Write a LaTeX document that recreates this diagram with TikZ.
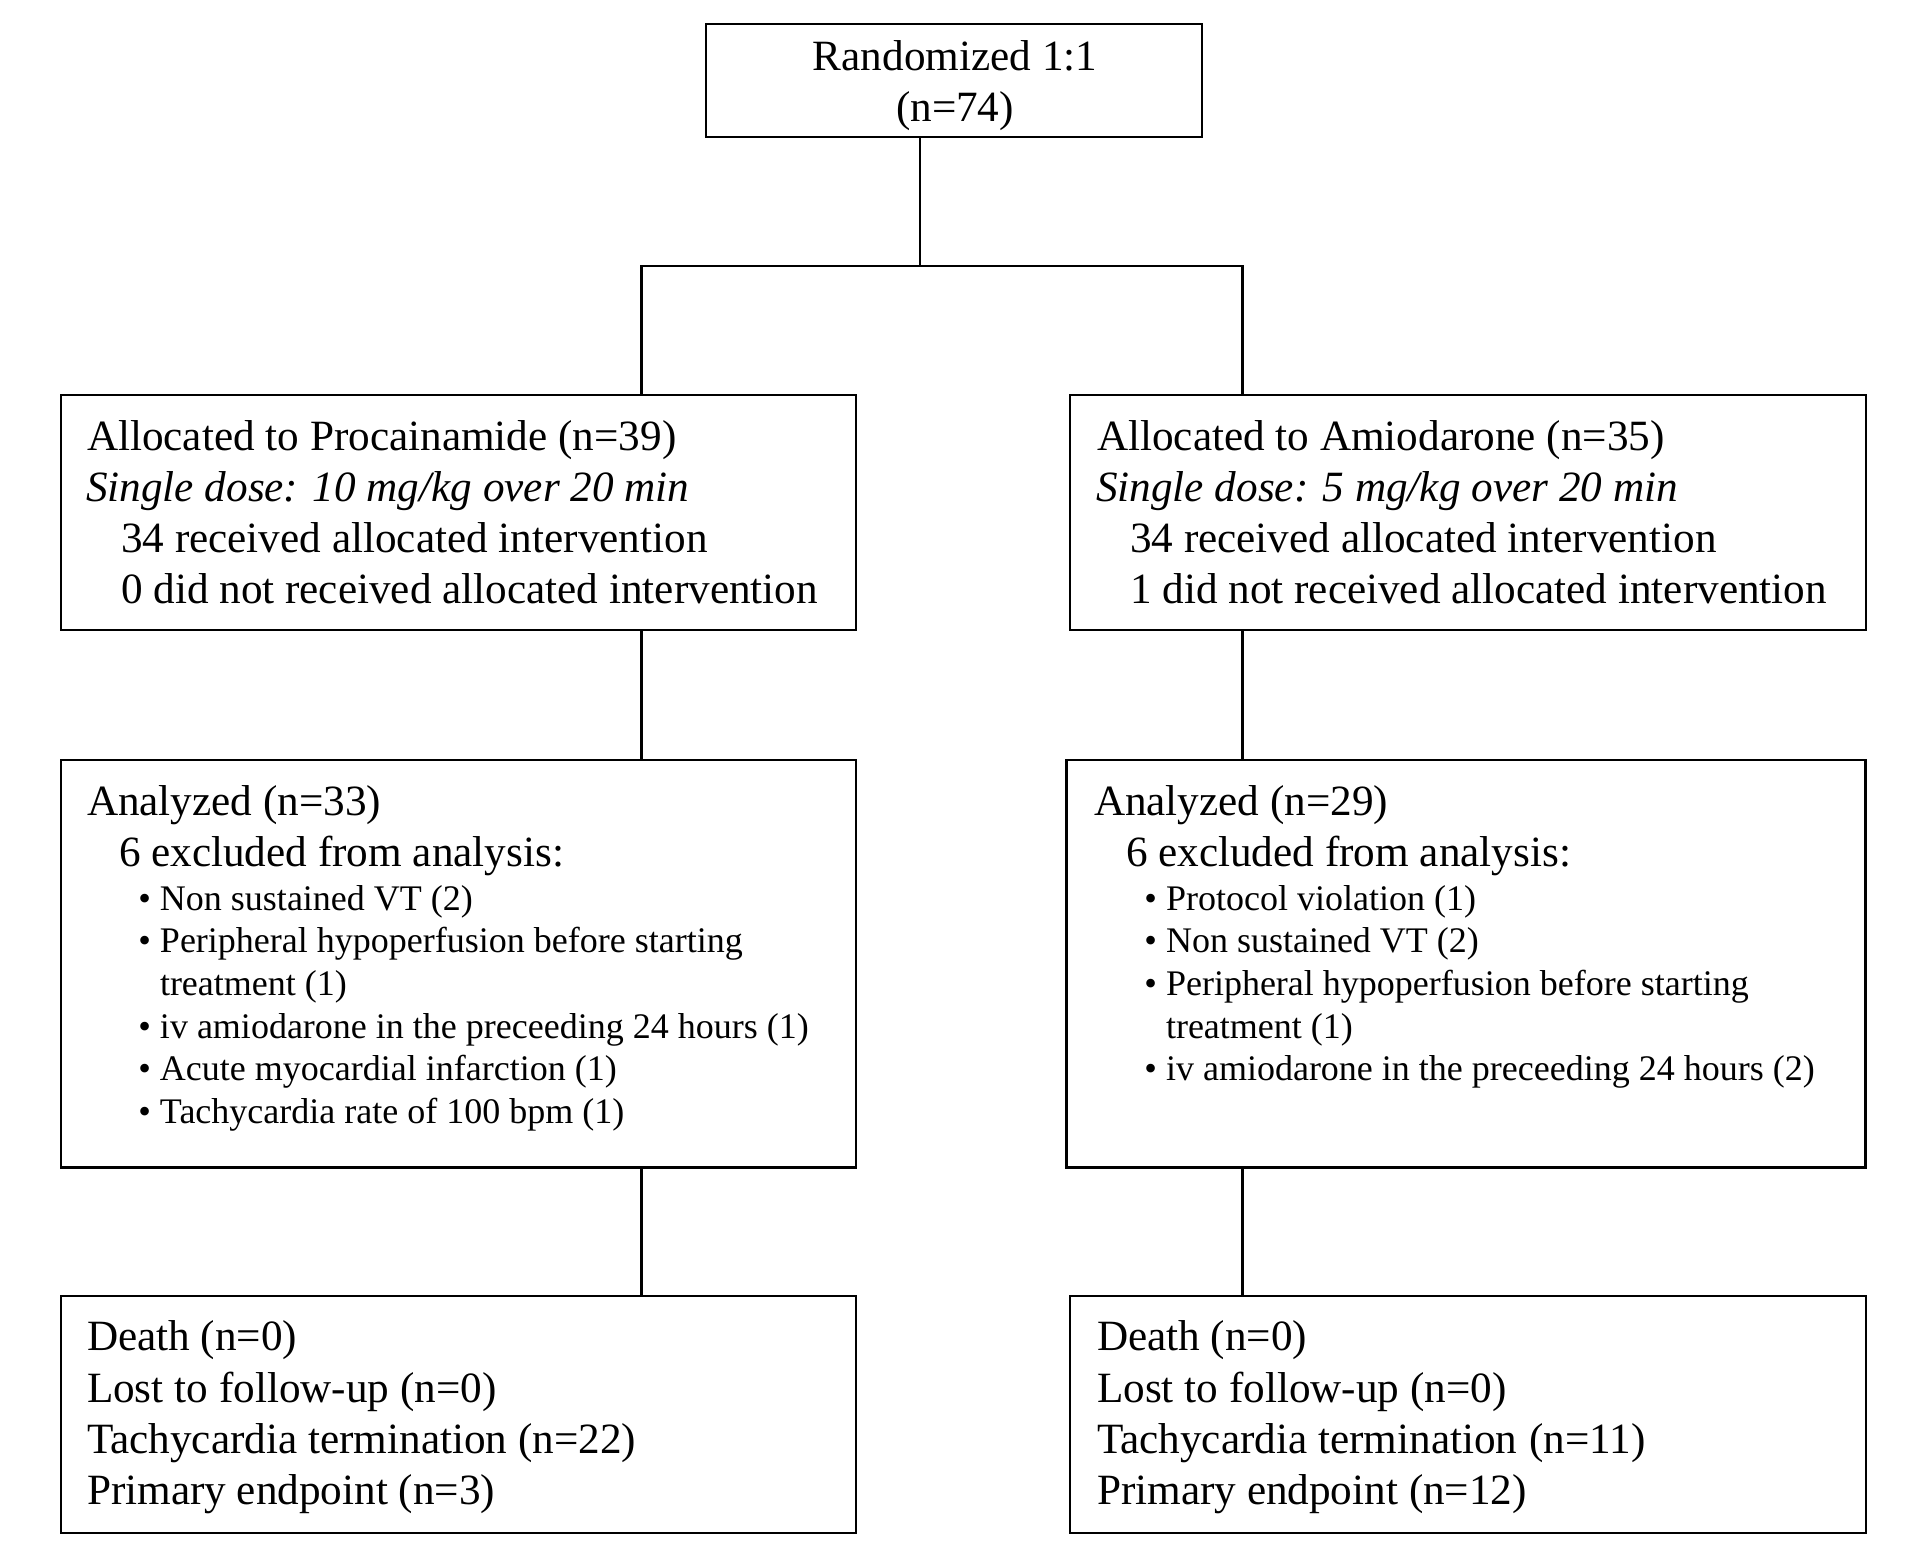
\documentclass[tikz,border=0pt]{standalone}
\usepackage{fontspec}
\setmainfont{Liberation Serif}
\begin{document}
\begin{tikzpicture}[x=1pt,y=-1pt,
  box/.style={draw=black, line width=2.3pt, inner sep=0pt, outer sep=0pt, anchor=north west},
  link/.style={draw=black, line width=2.3pt},
  txt/.style={anchor=base west, inner sep=0pt, outer sep=0pt, font=\fontsize{43.2}{51}\selectfont},
  ctxt/.style={anchor=base, inner sep=0pt, outer sep=0pt, font=\fontsize{43.2}{51}\selectfont},
  sm/.style={anchor=base west, inner sep=0pt, outer sep=0pt, font=\fontsize{36}{42.7}\selectfont}]
\newcommand{\bul}{\llap{\textbullet\hspace{9pt}}}
\fill[white] (0,0) rectangle (1918,1558);
\useasboundingbox (0,0) rectangle (1918,1558);

% boxes
\node[box, minimum width=496pt, minimum height=113pt] (top) at (706,24) {};
\node[box, minimum width=795pt, minimum height=235pt] (l2) at (61,395) {};
\node[box, minimum width=796pt, minimum height=235pt] (r2) at (1070,395) {};
\node[box, minimum width=795pt, minimum height=407.5pt] (l3) at (61,760) {};
\node[box, minimum width=799pt, minimum height=407.5pt] (r3) at (1066.5,760) {};
\node[box, minimum width=795pt, minimum height=236.7pt] (l4) at (61,1296) {};
\node[box, minimum width=796pt, minimum height=236.7pt] (r4) at (1070,1296) {};

% connectors
\coordinate (jt) at (920,266);
\coordinate (jl) at (641.5,266);
\coordinate (jr) at (1242.5,266);
\draw[link] (top.south -| jt) -- (jt);
\draw[link] (l2.north -| jl) -- (jl) -- (jr) -- (r2.north -| jr);
\draw[link] (l2.south -| jl) -- (l3.north -| jl);
\draw[link] (r2.south -| jr) -- (r3.north -| jr);
\draw[link] (l3.south -| jl) -- (l4.north -| jl);
\draw[link] (r3.south -| jr) -- (r4.north -| jr);

% top box text
\node[ctxt] (t1) at (955,70.7) {Randomized 1:1};
\node[ctxt] (t2) at (955,121.7) {(n=74)};

% left allocation box
\node[txt] (l2a) at (87,450) {Allocated to Procainamide (n=39)};
\node[txt] (l2b) at (86,501) {\itshape Single dose: 10 mg/kg over 20 min};
\node[txt] (l2c) at (121,552) {34 received allocated intervention};
\node[txt] (l2d) at (121,603) {0 did not received allocated intervention};

% right allocation box
\node[txt] (r2a) at (1097,450) {Allocated to Amiodarone (n=35)};
\node[txt] (r2b) at (1096,501) {\itshape Single dose: 5 mg/kg over 20 min};
\node[txt] (r2c) at (1130,552) {34 received allocated intervention};
\node[txt] (r2d) at (1130,603) {1 did not received allocated intervention};

% left analysis box
\node[txt] (l3a) at (87,815) {Analyzed (n=33)};
\node[txt] (l3b) at (119,866) {6 excluded from analysis:};
\node[sm] (l3c) at (160,910) {\bul Non sustained VT (2)};
\node[sm] (l3d) at (160,952.7) {\bul Peripheral hypoperfusion before starting};
\node[sm] (l3e) at (160,995.3) {treatment (1)};
\node[sm] (l3f) at (160,1038) {\bul iv amiodarone in the preceeding 24 hours (1)};
\node[sm] (l3g) at (160,1080.7) {\bul Acute myocardial infarction (1)};
\node[sm] (l3h) at (160,1123.3) {\bul Tachycardia rate of 100 bpm (1)};

% right analysis box
\node[txt] (r3a) at (1094,815) {Analyzed (n=29)};
\node[txt] (r3b) at (1126,866) {6 excluded from analysis:};
\node[sm] (r3c) at (1166,910) {\bul Protocol violation (1)};
\node[sm] (r3d) at (1166,952.7) {\bul Non sustained VT (2)};
\node[sm] (r3e) at (1166,995.3) {\bul Peripheral hypoperfusion before starting};
\node[sm] (r3f) at (1166,1038) {treatment (1)};
\node[sm] (r3g) at (1166,1080.7) {\bul iv amiodarone in the preceeding 24 hours (2)};

% left outcome box
\node[txt] (l4a) at (87,1350.7) {Death (n=0)};
\node[txt] (l4b) at (87,1402.1) {Lost to follow-up (n=0)};
\node[txt] (l4c) at (87,1453.5) {Tachycardia termination (n=22)};
\node[txt] (l4d) at (87,1504.9) {Primary endpoint (n=3)};

% right outcome box
\node[txt] (r4a) at (1097,1350.7) {Death (n=0)};
\node[txt] (r4b) at (1097,1402.1) {Lost to follow-up (n=0)};
\node[txt] (r4c) at (1097,1453.5) {Tachycardia termination\hspace{1pt} (n=11)};
\node[txt] (r4d) at (1097,1504.9) {Primary endpoint (n=12)};
\end{tikzpicture}
\end{document}
